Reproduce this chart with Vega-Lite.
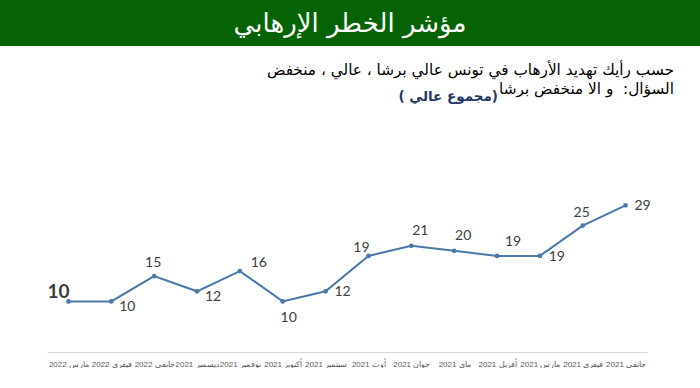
{
  "$schema": "https://vega.github.io/schema/vega-lite/v6.json",
  "padding": 0,
  "background": "white",
  "bounds": "flush",
  "spacing": 129,
  "config": {"view": {"stroke": null}},
  "vconcat": [
    {
      "width": 700,
      "height": 46,
      "view": {"fill": "#056305", "stroke": null},
      "data": {"values": [{"t": "مؤشر الخطر الإرهابي"}]},
      "mark": {"type": "text", "color": "white", "fontSize": 26, "font": "DejaVu Sans", "dy": 1},
      "encoding": {
        "x": {"field": "t", "type": "nominal", "axis": null},
        "y": {"field": "t", "type": "nominal", "axis": null},
        "text": {"field": "t"}
      }
    },
    {
      "bounds": "flush",
      "spacing": 20,
      "hconcat": [
        {
          "width": 27,
          "height": 177,
          "title": {
            "text": "( مجموع عالي)",
            "anchor": "end",
            "frame": "group",
            "dx": 471,
            "offset": 72,
            "font": "DejaVu Sans",
            "fontSize": 13.5,
            "fontWeight": "bold",
            "color": "#1f3864"
          },
          "data": {"values": []},
          "mark": {"type": "point"},
          "encoding": {}
        },
        {
          "width": 600,
          "height": 177,
          "title": {
            "text": ["حسب رأيك تهديد الأرهاب في تونس عالي برشا ، عالي ، منخفض", "السؤال:\u00a0\u00a0و الا منخفض برشا"],
            "anchor": "end",
            "frame": "group",
            "dx": 27,
            "offset": 78,
            "font": "DejaVu Sans",
            "fontSize": 15.3,
            "fontWeight": "normal",
            "color": "black",
            "lineHeight": 19
          },
          "data": {"values": [
            {"m": "مارس 2022", "v": 10},
            {"m": "فيفري 2022", "v": 10},
            {"m": "جانفي 2022", "v": 15},
            {"m": "ديسمبر 2021", "v": 12},
            {"m": "نوفمبر 2021", "v": 16},
            {"m": "أكتوبر 2021", "v": 10},
            {"m": "سبتمبر 2021", "v": 12},
            {"m": "أوت 2021", "v": 19},
            {"m": "جوان 2021", "v": 21},
            {"m": "ماي 2021", "v": 20},
            {"m": "أفريل 2021", "v": 19},
            {"m": "مارس 2021", "v": 19},
            {"m": "فيفري 2021", "v": 25},
            {"m": "جانفي 2021", "v": 29}
          ]},
          "encoding": {
            "x": {
              "field": "m",
              "type": "ordinal",
              "sort": null,
              "scale": {"type": "point", "padding": 0.5, "domain": ["مارس 2022", "فيفري 2022", "جانفي 2022", "ديسمبر 2021", "نوفمبر 2021", "أكتوبر 2021", "سبتمبر 2021", "أوت 2021", "جوان 2021", "ماي 2021", "أفريل 2021", "مارس 2021", "فيفري 2021", "جانفي 2021"]},
              "axis": {
                "title": null,
                "ticks": false,
                "grid": false,
                "domainColor": "#d9d9d9",
                "labelAngle": 0,
                "labelFontSize": 8,
                "labelColor": "#595959",
                "labelFont": "Liberation Sans",
                "labelPadding": 8,
                "labelOverlap": false
              }
            },
            "y": {
              "field": "v",
              "type": "quantitative",
              "scale": {"domain": [0, 35]},
              "axis": null
            }
          },
          "layer": [
            {"mark": {"type": "line", "color": "#4a78aa", "strokeWidth": 2}},
            {"mark": {"type": "point", "filled": true, "size": 22, "color": "#4a78aa", "opacity": 1}},
            {
              "transform": [{"filter": {"field": "m", "oneOf": ["مارس 2022"]}}],
              "mark": {"type": "text", "align": "right", "dx": 1, "dy": -9, "fontSize": 19, "fontWeight": "bold", "font": "Lato", "color": "#3a3a3a"},
              "encoding": {"text": {"field": "v"}}
            },
            {
              "transform": [{"filter": {"field": "m", "oneOf": ["فيفري 2022", "ديسمبر 2021"]}}],
              "mark": {"type": "text", "dx": 16, "dy": 6, "fontSize": 14, "font": "Lato", "color": "#404040"},
              "encoding": {"text": {"field": "v"}}
            },
            {
              "transform": [{"filter": {"field": "m", "oneOf": ["سبتمبر 2021", "مارس 2021", "جانفي 2021"]}}],
              "mark": {"type": "text", "dx": 17, "dy": 1, "fontSize": 14, "font": "Lato", "color": "#404040"},
              "encoding": {"text": {"field": "v"}}
            },
            {
              "transform": [{"filter": {"field": "m", "oneOf": ["جانفي 2022", "فيفري 2021"]}}],
              "mark": {"type": "text", "dx": -1, "dy": -13, "fontSize": 14, "font": "Lato", "color": "#404040"},
              "encoding": {"text": {"field": "v"}}
            },
            {
              "transform": [{"filter": {"field": "m", "oneOf": ["جوان 2021", "ماي 2021"]}}],
              "mark": {"type": "text", "dx": 9, "dy": -15, "fontSize": 14, "font": "Lato", "color": "#404040"},
              "encoding": {"text": {"field": "v"}}
            },
            {
              "transform": [{"filter": {"field": "m", "oneOf": ["أفريل 2021"]}}],
              "mark": {"type": "text", "dx": 16, "dy": -14, "fontSize": 14, "font": "Lato", "color": "#404040"},
              "encoding": {"text": {"field": "v"}}
            },
            {
              "transform": [{"filter": {"field": "m", "oneOf": ["نوفمبر 2021"]}}],
              "mark": {"type": "text", "dx": 19, "dy": -8, "fontSize": 14, "font": "Lato", "color": "#404040"},
              "encoding": {"text": {"field": "v"}}
            },
            {
              "transform": [{"filter": {"field": "m", "oneOf": ["أكتوبر 2021"]}}],
              "mark": {"type": "text", "dx": 6, "dy": 17, "fontSize": 14, "font": "Lato", "color": "#404040"},
              "encoding": {"text": {"field": "v"}}
            },
            {
              "transform": [{"filter": {"field": "m", "oneOf": ["أوت 2021"]}}],
              "mark": {"type": "text", "dx": -7, "dy": -8, "fontSize": 14, "font": "Lato", "color": "#404040"},
              "encoding": {"text": {"field": "v"}}
            }
          ]
        }
      ]
    }
  ]
}
